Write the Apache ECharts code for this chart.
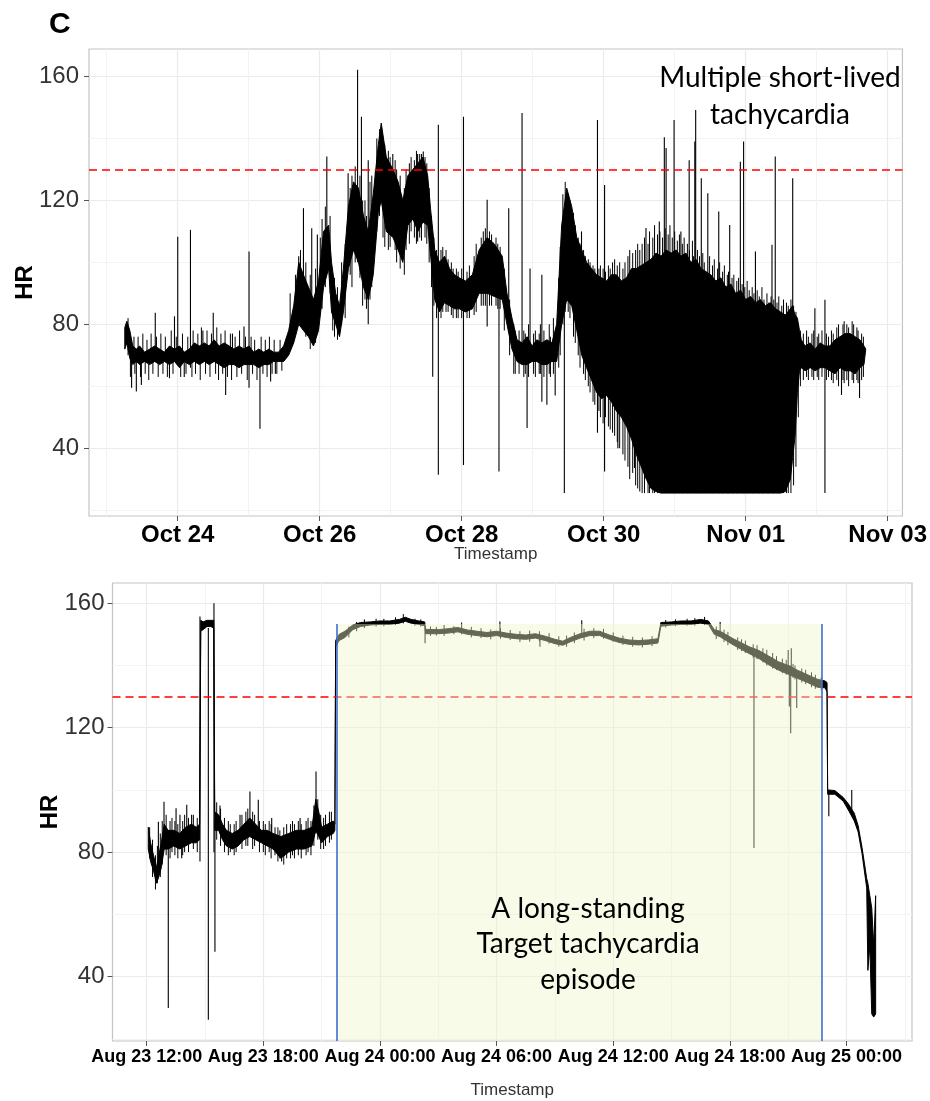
<!DOCTYPE html>
<html><head><meta charset="utf-8">
<script src="https://cdn.jsdelivr.net/npm/echarts@6/dist/echarts.min.js"></script>
<style>html,body{margin:0;padding:0;background:#fff}#c{width:930px;height:1101px}</style>
</head><body><div id="c"></div>
<script>
// ---------- TOP PANEL (hours since Oct 22 00:00) ----------
const topHours = [30.1,30.8,31.8,32.8,34.0,35.1,36.8,38.5,40.2,41.9,43.5,45.2,46.9,48.6,50.2,51.9,53.6,55.3,57.0,58.6,60.3,62.0,63.7,65.4,67.0,68.7,70.4,72.1,73.7,75.4,77.1,78.8,80.4,82.1,83.8,85.5,87.2,88.9,90.5,92.2,93.9,95.6,97.3,99.0,100.0,101.4,102.7,104.0,105.7,107.4,109.1,110.8,112.4,114.1,115.8,116.8,118.5,120.8,122.5,124.1,125.8,127.5,129.2,130.9,132.5,133.5,134.9,136.5,138.2,139.9,141.6,143.2,145.3,147.6,149.9,152.6,155.0,157.7,159.3,161.0,162.7,164.4,166.1,167.8,169.4,171.1,172.8,174.5,176.1,177.8,179.5,181.2,182.9,184.6,186.2,187.9,189.6,191.3,193.0,194.6,196.3,198.0,199.7,201.4,203.0,204.7,206.4,208.0,209.7,211.4,213.1,214.8,216.5,218.1,219.8,221.5,223.2,224.9,226.6,228.2,229.9,231.6,233.3,235.0,236.6,238.3,240.0,241.7,243.4,245.0,246.7,248.4,250.1,251.8,253.4,255.1,255.8,256.7,257.5,258.2,258.8,260.1,261.8,263.5,265.2,266.8,268.5,270.2,271.9,273.6,275.3,277.0,278.6,280.0,280.6];
const topHigh = [79,81,78,73,72,73,71,72,73,72,71,73,72,73,71,72,74,73,74,73,75,73,74,73,72,73,72,73,71,72,71,72,71,71,73,78,86,100,96,92,88,94,110,112,100,90,86,98,118,126,124,115,110,122,138,145,134,130,126,120,128,130,132,134,128,117,104,100,102,98,96,95,94,96,104,108,106,102,90,82,75,74,76,73,75,74,75,74,80,112,124,118,108,104,100,98,96,95,94,96,96,94,95,98,98,99,100,101,103,102,104,103,104,102,103,100,101,98,97,96,94,95,92,93,90,91,88,89,87,88,86,87,85,84,83,85,86,83,82,78,75,73,74,72,74,73,73,75,76,77,77,76,75,73,72];
const topLow = [72,74,69,67,68,67,68,67,68,67,68,67,68,66,68,67,68,67,68,67,68,67,66,67,67,66,67,67,67,66,67,67,68,68,68,70,74,80,78,76,73,78,92,98,84,80,76,84,98,104,100,92,88,96,116,120,110,108,104,100,112,114,110,113,112,102,88,84,87,86,85,85,84,85,90,90,89,88,80,72,68,67,67,68,68,67,67,68,68,80,88,86,78,70,66,62,58,56,57,55,52,50,47,43,38,34,30,27,26,25.5,25.5,25.5,25.5,25.5,25.5,25.5,25.5,25.5,25.5,25.5,25.5,25.5,25.5,25.5,25.5,25.5,25.5,25.5,25.5,25.5,25.5,25.5,25.5,25.5,26,30,36,44,58,65,66,65,66,65,66,66,65,64,66,65,65,64,66,67];
// large spikes: [hour, from, to]
const topSpikes = [[32.4,70,59.5],[34.0,70,58.3],[35.7,70,60.4],[40.4,70,83.7],[45.2,70,62.6],[46.9,70,82.6],[48.0,68,108.3],[50.2,70,63],[52.3,66,110.5],[56.5,70,78],[60.0,70,83.7],[64.2,70,57.2],[66.5,70,77],[70.4,70,79.3],[72.1,59.5,103.5],[75.8,70,46.3],[79.4,70,61.5],[81.0,70,64],[88.9,85,102],[90.5,85,117.5],[93.3,80,111],[95.2,80,109],[98.4,100,134.2],[105.6,100,128.8],[108.8,100,162.2],[110.1,100,147],[112.4,80,133],[120.7,110,135],[129.1,106.7,135],[131.0,115,135.8],[134.2,63.1,100],[136.1,31.4,144.4],[144.6,34.6,147],[152.6,79.3,120.2],[156.6,32.5,100],[159.9,85,117.5],[164.4,70,148.2],[166.1,46.5,72],[167.1,70,98],[171.1,55,96],[172.8,54,70],[175.6,57,70],[178.7,25.5,100],[184.5,80,110],[189.9,45,146],[192.3,32.5,125],[196.8,40,70],[202.4,33.6,70],[206.3,70,111.1],[210.8,70,113.2],[212.5,70,140.4],[213.1,70,136.9],[215.8,70,146],[218.1,70,110],[220.9,70,133],[222.8,70,139],[223.1,70,149.2],[225.0,70,127.2],[227.2,70,122.3],[230.9,70,116.4],[234.6,70,112.1],[238.2,70,132.5],[239.3,70,139],[243.3,70,103.5],[248.9,70,105.7],[250.0,70,134.2],[255.9,70,127.2],[263.4,70,85.2],[266.8,25.5,87.9],[272.4,70,57.2],[278.5,70,56.2]];
// small noise excursions: [hour, low, high]
const topJitter = [[31.2,70,82],[32.0,63,72],[33.2,68,76],[33.5,64,70],[34.6,68,76],[35.4,63,70],[36.2,68,77],[37.0,64,70],[37.6,68,75],[38.2,62,70],[39.0,68,77],[39.6,64,70],[40.8,68,76],[41.4,63,70],[42.3,68,77],[43.0,64,70],[43.8,68,76],[44.5,63,70],[45.8,68,78],[46.4,64,70],[47.5,68,76],[49.0,63,70],[49.6,68,77],[50.8,64,70],[51.4,68,76],[52.8,63,70],[53.2,68,78],[54.0,64,70],[54.8,68,77],[55.6,62,70],[56.0,68,79],[57.4,64,70],[57.9,68,78],[58.9,63,70],[59.4,68,77],[60.8,64,70],[61.2,68,79],[61.8,62,70],[62.6,68,77],[63.2,64,70],[64.0,68,78],[64.8,63,70],[65.8,68,77],[66.2,62,70],[67.4,68,76],[68.0,63,70],[68.9,68,78],[69.6,64,70],[70.9,68,76],[71.5,62,70],[72.8,68,76],[73.3,64,70],[74.0,68,75],[74.8,62,70],[76.2,68,76],[76.8,64,70],[77.6,68,75],[78.2,63,70],[79.0,68,76],[79.9,64,70],[80.6,68,75],[81.5,64,70],[82.6,68,75],[83.2,65,70],
[86.0,74,90],[87.8,78,96],[89.5,80,104],[91.3,76,100],[92.8,72,96],[94.6,74,98],[96.2,85,108],[96.8,85,114],[97.9,92,118],[99.5,90,115],[100.4,78,96],[101.0,76,95],[102.0,75,92],[103.4,80,100],[104.6,82,106],[106.3,96,124],[106.9,92,128],[108.0,100,131],[109.6,95,128],[110.5,86,120],[111.3,88,120],[111.8,85,115],[113.0,88,126],[113.6,92,128],[114.8,106,130],[115.3,110,140],[116.2,115,143],[117.4,108,140],[118.0,105,138],[119.2,104,136],[119.8,105,134],[121.5,104,133],[122.0,100,130],[123.2,98,128],[124.6,96,124],[125.2,104,130],[126.3,106,132],[126.9,110,134],[128.0,108,133],[128.7,106,136],[129.8,108,135],[130.4,107,135],[131.6,108,134],[132.2,106,132],[133.0,100,124],[133.8,92,115],[134.6,86,108],[135.5,82,104],[137.0,82,104],[137.6,84,105],[138.7,84,104],[139.4,84,101],[140.5,83,100],[141.1,82,98],[142.2,82,98],[142.8,82,97],[144.0,82,98],[145.8,82,97],[146.6,82,99],[148.2,83,102],[148.9,84,106],[150.6,86,108],[151.3,86,110],[152.0,86,111],[153.4,86,110],[154.1,86,109],[155.6,86,108],[156.2,85,106],[157.0,85,105],[158.4,78,98],[160.2,70,88],[161.6,64,80],[162.1,64,78],[163.4,64,78],[165.0,63,78],[165.5,64,77],[166.6,63,80],[168.3,64,77],[168.9,63,78],[170.2,64,77],[170.6,64,80],[171.8,63,78],[173.6,64,80],[174.0,63,76],[175.0,64,82],[176.8,66,95],[177.3,70,105],[178.2,80,122],[179.0,84,126],[180.0,84,122],[180.6,82,120],[181.8,76,116],[182.4,74,112],[183.4,70,108],[184.0,66,106],[185.2,64,104],[185.8,62,102],[186.8,60,101],[187.4,58,100],[188.4,55,99],[189.0,54,98],[190.4,52,98],[190.9,50,99],[191.8,48,98],[192.6,50,97],[193.6,47,99],[194.2,46,98],[195.0,45,100],[195.7,44,101],[196.6,42,99],[197.4,40,100],[198.5,38,98],[199.2,36,100],[200.2,34,102],[200.8,30,104],[201.8,32,103],[202.8,28,104],[203.5,27,106],[204.2,26,104],[205.0,25.5,106],[205.8,25.5,108],[207.0,25.5,106],[207.5,25.5,110],[208.6,25.5,108],[209.2,25.5,112],[210.2,25.5,109],[211.0,25.5,110],[211.9,25.5,108],[212.8,25.5,111],[213.8,25.5,109],[214.4,25.5,112],[215.2,25.5,108],[216.0,25.5,110],[216.9,25.5,107],[217.6,25.5,109],[218.6,25.5,106],[219.2,25.5,108],[220.3,25.5,106],[221.0,25.5,104],[222.0,25.5,107],[222.4,25.5,102],[223.7,25.5,104],[224.4,25.5,102],[225.5,25.5,103],[226.0,25.5,100],[227.8,25.5,102],[228.8,25.5,99],[229.4,25.5,101],[230.5,25.5,98],[231.2,25.5,100],[232.2,25.5,97],[232.8,25.5,99],[233.8,25.5,96],[234.2,25.5,97],[235.4,25.5,95],[236.0,25.5,96],[237.0,25.5,94],[237.6,25.5,95],[238.8,25.5,93],[239.7,25.5,92],[240.5,25.5,94],[241.2,25.5,91],[242.2,25.5,92],[242.8,25.5,90],[243.9,25.5,91],[244.6,25.5,89],[245.5,25.5,92],[246.2,25.5,88],[247.2,25.5,90],[247.8,25.5,87],[248.6,25.5,89],[249.5,25.5,88],[250.6,25.5,87],[251.2,25.5,89],[252.2,25.5,86],[252.8,25.5,88],[253.8,25.5,87],[254.4,25.5,86],[255.3,25.5,88],[256.2,28,86],[257.0,34,84],[257.8,50,80],[258.5,60,78],[259.5,62,77],[260.6,63,78],[261.2,62,76],[262.4,63,77],[263.0,62,78],[264.2,63,76],[264.7,62,77],[265.8,63,78],[267.3,62,77],[268.0,63,76],[269.0,62,78],[269.6,61,77],[270.8,62,79],[271.4,60,80],[272.9,62,80],[273.3,61,81],[274.2,62,80],[274.8,60,79],[276.0,62,81],[276.5,61,80],[277.6,62,79],[278.0,61,78],[279.2,62,77],[279.8,63,76]];
const topTickHours = [48,96,144,192,240,288];
const topTickLabels = ['Oct 24','Oct 26','Oct 28','Oct 30','Nov 01','Nov 03'];
const topMinorHours = [24,72,120,168,216,264];
const topXRange = [18.0, 293.0];
const topYRange = [18.1, 168.9];

// ---------- BOTTOM PANEL (hours since Aug 23 00:00) ----------
const botHours = [12.08,12.2,12.35,12.5,12.62,12.75,12.9,13.1,13.4,13.7,14.0,14.3,14.55,14.72,14.78,14.9,15.1,15.3,15.45,15.5,15.7,15.9,16.1,16.4,16.7,17.0,17.3,17.6,17.9,18.2,18.5,18.9,19.3,19.7,20.1,20.5,20.7,20.85,21.0,21.3,21.6,21.68,21.72,21.9,22.2,22.6,23.0,23.5,24.0,24.5,25.0,25.3,25.6,26.0,26.3,26.35,27.0,27.5,28.0,28.5,29.0,29.5,30.0,30.5,31.0,31.5,32.0,32.5,33.0,33.4,33.8,34.3,34.8,35.3,35.8,36.3,36.8,37.3,37.8,38.3,38.45,39.0,39.5,40.0,40.5,40.9,41.2,41.5,42.2,43.0,43.5,44.0,44.5,45.0,45.5,46.0,46.5,46.9,47.0,47.03,47.4,47.83,48.1,48.4,48.6,48.8,49.04,49.1,49.2,49.3,49.4,49.5];
const botHigh = [88,83,79,75,79,83,89,87,87,86,88,89,88,89,154.5,154,154.5,154.5,154.5,93,92,89,87,86,87,89,91,89,87,87,86,85,86,87,87,88,97,93,88,89,90,89,148,150,151,153,153.8,154,154.3,154.3,154.8,155.5,154.8,154.3,154,151.6,151.5,151.8,152.2,151.4,151,150.6,151,150.4,150,149.8,150.2,149.4,148.4,147.8,149,150.2,151,151,149.8,148.8,148.2,148,148.2,148.6,153.8,154,154.3,154.3,154.8,154.3,151.5,151,148.5,146,144.8,143,141.2,140,138.4,137,135.6,135,134.5,100,99.8,97.6,95.5,92.5,88.5,81.5,71.5,70,66,62,50,66];
const botLow = [81,77,74,70,72,75,81,81,82,81,82,83,83,84,151,151.5,152.5,152.5,152,87,87,84,82,81,82,84,85,84,83,82,81,78,80,81,81,82,87,85,83,85,86,87,146,148,149,151.5,152.5,153,153.2,153.2,153.6,154.2,153.6,153.2,152.8,150.2,150.2,150.4,150.8,150,149.6,149.2,149.6,149,148.6,148.4,148.8,148,147,146.5,147.6,148.8,149.6,149.6,148.4,147.4,146.8,146.6,146.8,147.2,152.6,153,153.2,153.2,153.6,153.2,150,149.2,146.5,143.8,142.2,140.2,138.5,137.2,135.8,134.5,133,132.8,131.5,98.6,98.6,96.4,93.5,90,86.5,79.5,68.5,42,50,28,27,28];
const botSpikes = [[12.6,75,89.8],[12.89,84,96.2],[13.11,82,29.9],[13.51,84,94.1],[13.71,84,92],[13.8,84,78],[14.06,84,95.2],[14.31,84,92],[14.74,77,155.7],[15.17,26.1,152],[15.46,80,160],[15.51,48,90],[15.77,86,95],[16.8,84,92],[17.31,86,99.5],[17.74,86,96.8],[18.43,84,91],[18.94,84,77],[19.89,84,91],[20.71,86,105.9],[26.32,147.1,152],[30.17,150,154.1],[32.23,146,149],[34.38,149,154.5],[41.5,150,154],[43.24,81.3,145],[45.0,138,145],[45.06,126.8,140],[45.13,118.2,140],[45.16,138,145.5],[45.44,126.3,137],[47.09,91.5,99],[48.27,93,100]];
const botJitter = [[12.15,78,88],[12.3,72,84],[12.45,68,79],[12.55,70,82],[12.7,72,86],[12.8,76,90],[13.0,79,92],[13.2,78,90],[13.3,80,91],[13.45,79,90],[13.6,78,89],[13.85,79,90],[13.95,80,92],[14.15,80,91],[14.4,81,92],[14.6,80,91],[15.6,84,96],[15.8,82,94],[16.0,80,91],[16.2,79,90],[16.3,80,89],[16.5,79,89],[16.6,80,90],[16.9,81,92],[17.1,82,93],[17.2,82,94],[17.45,81,93],[17.55,82,92],[17.8,80,90],[18.0,80,90],[18.1,79,89],[18.3,80,90],[18.4,78,89],[18.6,79,88],[18.75,77,88],[18.85,78,87],[19.05,76,88],[19.2,78,89],[19.4,78,89],[19.5,79,90],[19.6,78,89],[19.8,79,90],[19.95,78,89],[20.2,79,90],[20.3,80,91],[20.45,79,90],[20.6,82,95],[20.8,84,97],[20.95,81,92],[21.1,81,91],[21.2,82,92],[21.4,83,93],[21.5,84,93],
[22.4,149,152.5],[22.8,151,154],[23.2,152,154.8],[23.8,152.5,155],[24.2,152.6,155],[24.8,153,155.5],[25.2,153.5,156.5],[25.8,152.8,155],[26.1,152.5,154.8],[26.6,149.5,152.5],[26.9,149.6,152.4],[27.3,149.5,153],[27.8,150,152.6],[28.2,150,153.8],[28.7,149,152.4],[29.2,148.8,152],[29.7,148.4,151.6],[30.2,148.6,152],[30.7,148.2,151.4],[31.2,147.5,151],[31.7,147.6,151.2],[32.2,147.8,151],[32.7,147,150.4],[33.2,146,149.4],[33.6,146,149.6],[34.0,147.2,150.6],[34.5,148,151.8],[35.0,148.8,152],[35.5,148.6,151.8],[36.0,147.6,150.6],[36.5,146.6,149.6],[37.0,146,149.2],[37.5,145.8,149],[38.0,146.2,149.4],[38.7,152.2,154.6],[39.2,152.6,154.8],[39.8,152.8,155],[40.2,152.8,155.2],[40.7,153,155.6],[41.3,148.5,152.5],[41.7,147.5,151.5],[41.9,146.5,150.8],[42.4,145,149],[42.6,144.6,148.4],[42.8,144,148],[43.2,142.5,146.8],[43.4,142,146.5],[43.7,141,145.5],[43.9,140,145],[44.2,139,144],[44.4,138.5,143],[44.7,137.5,142.2],[44.9,137,141.8],[45.25,136,140.5],[45.35,135.5,140],[45.7,134.5,139],[45.9,134,138.6],[46.2,133,137.8],[46.4,132.5,137],[46.7,132,136.2]];
const botTickHours = [12,18,24,30,36,42,48];
const botTickLabels = ['Aug 23 12:00','Aug 23 18:00','Aug 24 00:00','Aug 24 06:00','Aug 24 12:00','Aug 24 18:00','Aug 25 00:00'];
const botMinorHours = [15,21,27,33,39,45,51];
const botXRange = [10.24, 51.37];
const botYRange = [19.3, 166.5];
const episodeStart = 21.78, episodeEnd = 46.75, episodeTop = 153.3;

// ---------- shared ----------
const yTicks = [40,80,120,160];
const yMinor = [20,60,100,140];
const threshold = 130;

// one seamless polygon: upper envelope forward, lower envelope backward
function bandShape(hours, lo, hi) {
  return function (params, api) {
    if (params.dataIndex !== 0) return null;
    const pts = [];
    for (let i = 0; i < hours.length; i++) pts.push(api.coord([hours[i], hi[i]]));
    for (let i = hours.length - 1; i >= 0; i--) pts.push(api.coord([hours[i], lo[i]]));
    return {type: 'polygon', shape: {points: pts}, style: {fill: '#000', stroke: '#000', lineWidth: 1}};
  };
}
function vline(color, width) {
  return function (params, api) {
    const p = api.coord([api.value(0), api.value(1)]);
    const q = api.coord([api.value(0), api.value(2)]);
    return {type: 'line', shape: {x1: p[0], y1: p[1], x2: q[0], y2: q[1]}, style: {stroke: color, lineWidth: width}};
  };
}
const FONT = 'Liberation Sans, Arial, sans-serif';
function lbl(ticks, labels) {
  return v => { const i = ticks.findIndex(t => Math.abs(t - v) < 1e-6); return i >= 0 ? labels[i] : ''; };
}
function mainX(grid, range, ticks, labels, fs, margin, nameGap, nameFs) {
  return {type: 'value', gridIndex: grid, min: range[0], max: range[1], position: 'bottom',
    axisLine: {show: false},
    axisTick: {show: true, length: 5, lineStyle: {color: '#555', width: 1}, customValues: ticks},
    axisLabel: {show: true, customValues: ticks, formatter: lbl(ticks, labels), fontFamily: FONT, fontWeight: 'bold', fontSize: fs, color: '#000', margin: margin},
    splitLine: {show: true, lineStyle: {color: '#ebebeb', width: 1.2}},
    name: 'Timestamp', nameLocation: 'middle', nameGap: nameGap, nameMoveOverlap: false,
    nameTextStyle: {fontFamily: FONT, fontSize: nameFs, color: '#333'}};
}
function minorX(grid, range, ticks) {
  return {type: 'value', gridIndex: grid, min: range[0], max: range[1], position: 'top',
    axisLine: {show: false}, axisTick: {show: false, customValues: ticks}, axisLabel: {show: false},
    splitLine: {show: true, lineStyle: {color: '#f3f3f3', width: 1}}};
}
function mainY(grid, range, nameGap, margin) {
  return {type: 'value', gridIndex: grid, min: range[0], max: range[1], position: 'left',
    axisLine: {show: false},
    axisTick: {show: true, length: 5, lineStyle: {color: '#555', width: 1}, customValues: yTicks},
    axisLabel: {show: true, customValues: yTicks, fontFamily: FONT, fontSize: 24, color: '#333', margin: margin},
    splitLine: {show: true, lineStyle: {color: '#ebebeb', width: 1.2}},
    name: 'HR', nameLocation: 'middle', nameRotate: 90, nameGap: nameGap, nameMoveOverlap: false,
    nameTextStyle: {fontFamily: FONT, fontWeight: 'bold', fontSize: 24, color: '#000'}};
}
function minorY(grid, range) {
  return {type: 'value', gridIndex: grid, min: range[0], max: range[1], position: 'right',
    axisLine: {show: false}, axisTick: {show: false, customValues: yMinor}, axisLabel: {show: false},
    splitLine: {show: true, lineStyle: {color: '#f3f3f3', width: 1}}};
}
const redLine = {silent: true, symbol: ['none', 'none'], label: {show: false}, z: 5,
  lineStyle: {color: '#ff0000', type: [8, 5], width: 1.7}, data: [{yAxis: threshold}]};
const annFont = '28px Lato, sans-serif';

const option = {
  animation: false,
  backgroundColor: '#fff',
  grid: [
    {left: 89, top: 49, width: 819, height: 467, show: true, borderColor: '#c4c4c4', borderWidth: 1.2, backgroundColor: '#fff'},
    {left: 112.5, top: 583, width: 799.5, height: 458, show: true, borderColor: '#c4c4c4', borderWidth: 1.2, backgroundColor: '#fff'}
  ],
  xAxis: [
    mainX(0, topXRange, topTickHours, topTickLabels, 24, 7, 30, 17),
    minorX(0, topXRange, topMinorHours),
    mainX(1, botXRange, botTickHours, botTickLabels, 18, 7, 41, 17),
    minorX(1, botXRange, botMinorHours)
  ],
  yAxis: [
    mainY(0, topYRange, 52, 10),
    minorY(0, topYRange),
    mainY(1, botYRange, 50, 8),
    minorY(1, botYRange)
  ],
  series: [
    {type: 'custom', name: 'topBand', xAxisIndex: 0, yAxisIndex: 0, clip: true, z: 2,
      renderItem: bandShape(topHours, topLow, topHigh), encode: {x: 0, y: 1},
      data: topHours.map((h, i) => [h, topLow[i], topHigh[i]]),
      markLine: redLine},
    {type: 'custom', name: 'topJitter', xAxisIndex: 0, yAxisIndex: 0, clip: true, z: 2,
      renderItem: vline('#000', 1), encode: {x: 0, y: 1}, data: topJitter},
    {type: 'custom', name: 'topSpikes', xAxisIndex: 0, yAxisIndex: 0, clip: true, z: 2,
      renderItem: vline('#000', 1.1), encode: {x: 0, y: 1}, data: topSpikes},
    {type: 'custom', name: 'botBand', xAxisIndex: 2, yAxisIndex: 2, clip: true, z: 2,
      renderItem: bandShape(botHours, botLow, botHigh), encode: {x: 0, y: 1},
      data: botHours.map((h, i) => [h, botLow[i], botHigh[i]]),
      markLine: redLine},
    {type: 'custom', name: 'botJitter', xAxisIndex: 2, yAxisIndex: 2, clip: true, z: 2,
      renderItem: vline('#000', 1), encode: {x: 0, y: 1}, data: botJitter},
    {type: 'custom', name: 'botSpikes', xAxisIndex: 2, yAxisIndex: 2, clip: true, z: 2,
      renderItem: vline('#000', 1.1), encode: {x: 0, y: 1}, data: botSpikes,
      markArea: {silent: true, z: 10, itemStyle: {color: 'rgba(236,245,200,0.42)'},
        data: [[{xAxis: episodeStart, yAxis: botYRange[0]}, {xAxis: episodeEnd, yAxis: episodeTop}]]},
      markLine: {silent: true, z: 12, symbol: ['none', 'none'], label: {show: false},
        lineStyle: {color: '#3b6fd0', type: 'solid', width: 1.6},
        data: [
          [{coord: [episodeStart, botYRange[0]]}, {coord: [episodeStart, episodeTop]}],
          [{coord: [episodeEnd, botYRange[0]]}, {coord: [episodeEnd, episodeTop]}]
        ]}}
  ],
  graphic: [
    {type: 'text', left: 49, top: 10, z: 100, style: {text: 'C', font: 'bold 30px Liberation Sans, Arial, sans-serif', fill: '#000'}},
    {type: 'text', x: 780, y: 78, z: 100, style: {text: 'Multiple short-lived', font: annFont, fill: '#000', align: 'center', verticalAlign: 'middle'}},
    {type: 'text', x: 780, y: 115, z: 100, style: {text: 'tachycardia', font: annFont, fill: '#000', align: 'center', verticalAlign: 'middle'}},
    {type: 'text', x: 588, y: 909, z: 100, style: {text: 'A long-standing', font: annFont, fill: '#000', align: 'center', verticalAlign: 'middle'}},
    {type: 'text', x: 588, y: 944, z: 100, style: {text: 'Target tachycardia', font: annFont, fill: '#000', align: 'center', verticalAlign: 'middle'}},
    {type: 'text', x: 588, y: 980, z: 100, style: {text: 'episode', font: annFont, fill: '#000', align: 'center', verticalAlign: 'middle'}}
  ]
};
const chart = echarts.init(document.getElementById('c'));
chart.setOption(option);
</script>
</body></html>
